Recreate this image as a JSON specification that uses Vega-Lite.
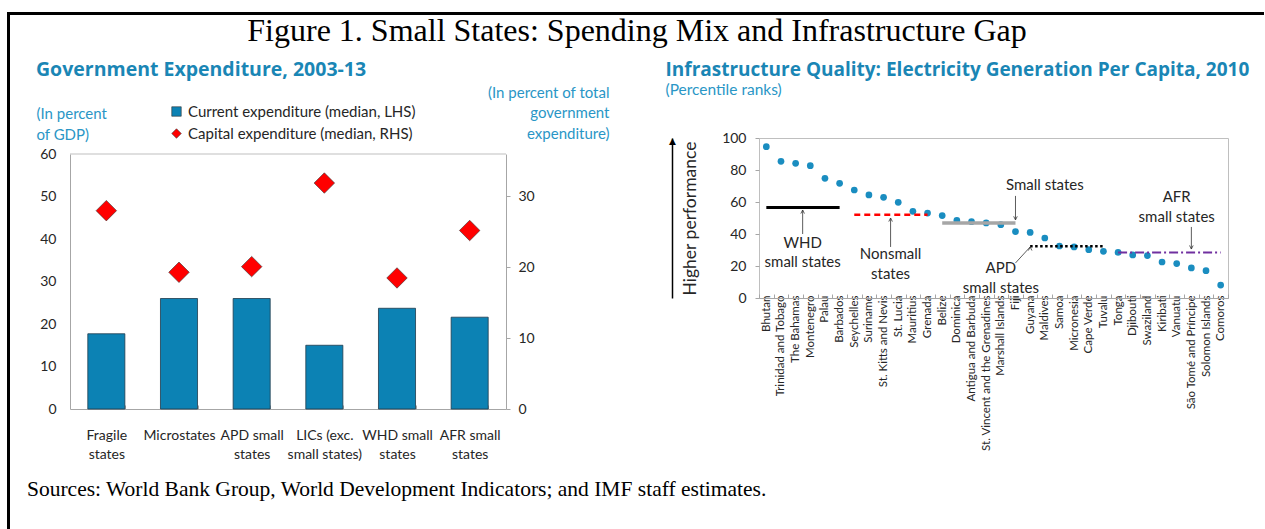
{
  "$schema": "https://vega.github.io/schema/vega-lite/v6.json",
  "padding": {"left": 7, "top": 6, "right": 0, "bottom": 0},
  "background": "white",
  "spacing": 0,
  "config": {
    "view": {"stroke": null},
    "font": "Lato",
    "axis": {"labelFont": "Lato", "titleFont": "Lato", "labelFontSize": 14, "labelColor": "#262626", "domainColor": "#A6A6A6", "tickColor": "#A6A6A6", "grid": false, "titleFontWeight": "normal"},
    "legend": {"labelFont": "Lato"},
    "title": {"font": "Open Sans", "fontWeight": "bold", "fontSize": 19, "color": "#1A86B5"}
  },
  "datasets": {
    "countries": [
      {"country": "Bhutan", "value": 94.6},
      {"country": "Trinidad and Tobago", "value": 85.4},
      {"country": "The Bahamas", "value": 84.2},
      {"country": "Montenegro", "value": 82.7},
      {"country": "Palau", "value": 74.8},
      {"country": "Barbados", "value": 71.7},
      {"country": "Seychelles", "value": 67.5},
      {"country": "Suriname", "value": 64.4},
      {"country": "St. Kitts and Nevis", "value": 62.9},
      {"country": "St. Lucia", "value": 59.8},
      {"country": "Mauritius", "value": 54.2},
      {"country": "Grenada", "value": 53.1},
      {"country": "Belize", "value": 51.5},
      {"country": "Dominica", "value": 48.5},
      {"country": "Antigua and Barbuda", "value": 47.7},
      {"country": "St. Vincent and the Grenadines", "value": 46.9},
      {"country": "Marshall Islands", "value": 45.8},
      {"country": "Fiji", "value": 41.5},
      {"country": "Guyana", "value": 41.0},
      {"country": "Maldives", "value": 37.5},
      {"country": "Samoa", "value": 32.5},
      {"country": "Micronesia", "value": 31.9},
      {"country": "Cape Verde", "value": 30.2},
      {"country": "Tuvalu", "value": 29.2},
      {"country": "Tonga", "value": 28.5},
      {"country": "Djibouti", "value": 26.9},
      {"country": "Swaziland", "value": 26.5},
      {"country": "Kiribati", "value": 22.5},
      {"country": "Vanuatu", "value": 21.5},
      {"country": "São Tomé and Príncipe", "value": 18.8},
      {"country": "Solomon Islands", "value": 17.1},
      {"country": "Comoros", "value": 8.1}
    ],
    "lines": [
      {"line": "WHD small states", "from": "Bhutan", "to": "Barbados", "value": 56.6},
      {"line": "Nonsmall states", "from": "Seychelles", "to": "Grenada", "value": 52.0},
      {"line": "Small states", "from": "Belize", "to": "Fiji", "value": 46.8},
      {"line": "APD small states", "from": "Guyana", "to": "Tuvalu", "value": 32.3},
      {"line": "AFR small states", "from": "Tonga", "to": "Comoros", "value": 28.5}
    ],
    "notes": [
      {"text": "Small states", "country": "Maldives", "value": 70.6},
      {"text": "AFR", "country": "Vanuatu", "value": 63.1},
      {"text": "small states", "country": "Vanuatu", "value": 50.6},
      {"text": "APD", "country": "Marshall Islands", "value": 18.75},
      {"text": "small states", "country": "Marshall Islands", "value": 6.25}
    ],
    "notes_shifted": [
      {"text": "WHD", "country": "The Bahamas", "value": 34.4},
      {"text": "small states", "country": "The Bahamas", "value": 22.5},
      {"text": "Nonsmall", "country": "St. Kitts and Nevis", "value": 27.5},
      {"text": "states", "country": "St. Kitts and Nevis", "value": 15.0}
    ],
    "arrows": [
      {"note": "Small states", "xt": "Fiji", "xh": "Fiji", "yt": 63.8, "yh": 48.8},
      {"note": "APD small states", "xt": "Fiji", "xh": "Guyana", "yt": 21.9, "yh": 31.9},
      {"note": "AFR small states", "xt": "São Tomé and Príncipe", "xh": "São Tomé and Príncipe", "yt": 44.4, "yh": 30.6}
    ],
    "arrows_shifted": [
      {"note": "WHD small states", "xt": "The Bahamas", "xh": "The Bahamas", "yt": 40.0, "yh": 55.0},
      {"note": "Nonsmall states", "xt": "St. Kitts and Nevis", "xh": "St. Kitts and Nevis", "yt": 31.9, "yh": 50.0}
    ]
  },
  "hconcat": [
    {
      "width": 1, "height": 518,
      "view": {"stroke": "black", "strokeWidth": 2},
      "data": {"values": [{}]},
      "mark": "text",
      "encoding": {"text": {"value": ""}}
    },
    {
      "spacing": 11,
      "vconcat": [
        {
          "width": 1252, "height": 1,
          "view": {"stroke": "black", "strokeWidth": 2},
          "title": {"text": "Figure 1. Small States: Spending Mix and Infrastructure Gap", "orient": "bottom", "anchor": "middle", "font": "Liberation Serif", "fontWeight": "normal", "fontSize": 32, "color": "black", "offset": -3, "baseline": "top"},
          "data": {"values": [{}]},
          "mark": "text",
          "encoding": {"text": {"value": ""}}
        },
        {
          "spacing": 0,
          "hconcat": [
            {
              "width": 25, "height": 10,
              "data": {"values": [{}]},
              "mark": "text",
              "encoding": {"text": {"value": ""}}
            },
            {
              "spacing": 56,
              "hconcat": [
                {
                  "width": 436, "height": 271,
                  "title": {"text": "Government Expenditure, 2003-13", "anchor": "start", "frame": "bounds", "offset": 5, "fontSize": 19.5},
                  "data": {"values": [
                    {"group": "Fragile states", "series": "Current expenditure (median, LHS)", "value": 17.7},
                    {"group": "Microstates", "series": "Current expenditure (median, LHS)", "value": 26.0},
                    {"group": "APD small states", "series": "Current expenditure (median, LHS)", "value": 26.0},
                    {"group": "LICs (exc. small states)", "series": "Current expenditure (median, LHS)", "value": 15.0},
                    {"group": "WHD small states", "series": "Current expenditure (median, LHS)", "value": 23.7},
                    {"group": "AFR small states", "series": "Current expenditure (median, LHS)", "value": 21.6},
                    {"group": "Fragile states", "series": "Capital expenditure (median, RHS)", "value": 28.0},
                    {"group": "Microstates", "series": "Capital expenditure (median, RHS)", "value": 19.3},
                    {"group": "APD small states", "series": "Capital expenditure (median, RHS)", "value": 20.1},
                    {"group": "LICs (exc. small states)", "series": "Capital expenditure (median, RHS)", "value": 31.9},
                    {"group": "WHD small states", "series": "Capital expenditure (median, RHS)", "value": 18.5},
                    {"group": "AFR small states", "series": "Capital expenditure (median, RHS)", "value": 25.2}
                  ]},
                  "layer": [
                    {
                      "transform": [{"filter": "datum.series === 'Current expenditure (median, LHS)'"}],
                      "mark": {"type": "bar", "stroke": "#1F3B4D", "strokeWidth": 0.8},
                      "encoding": {
                        "x": {
                          "field": "group", "type": "nominal", "title": null,
                          "scale": {"domain": ["Fragile states", "Microstates", "APD small states", "LICs (exc. small states)", "WHD small states", "AFR small states"], "paddingInner": 0.49, "paddingOuter": 0.245},
                          "axis": {"labelAngle": 0, "labelExpr": "test(/\\(exc\\./, datum.label) ? [slice(datum.label, 0, 10), slice(datum.label, 11)] : (indexof(datum.label, ' ') > 0 ? [slice(datum.label, 0, lastindexof(datum.label, ' ')), slice(datum.label, lastindexof(datum.label, ' ') + 1)] : datum.label)", "labelLineHeight": 19, "tickBand": "extent", "tickSize": -4, "labelPadding": 23}
                        },
                        "y": {
                          "field": "value", "type": "quantitative",
                          "scale": {"domain": [0, 60], "nice": false, "range": [271, 16]},
                          "axis": {"orient": "left", "values": [0, 10, 20, 30, 40, 50, 60], "ticks": false, "labelPadding": 14, "title": ["(In percent", " of GDP)"], "titleAngle": 0, "titleAlign": "left", "titleBaseline": "alphabetic", "titleX": -34, "titleY": -20, "titleFontSize": 15, "titleColor": "#2A96C6", "titleLineHeight": 21}
                        },
                        "color": {
                          "field": "series", "type": "nominal",
                          "scale": {"domain": ["Current expenditure (median, LHS)", "Capital expenditure (median, RHS)"], "range": ["#0C82B4", "#FF0000"]},
                          "legend": {"orient": "none", "legendX": 161, "legendY": 91, "title": null, "labelFontSize": 15, "labelColor": "#262626", "symbolSize": 90, "symbolStrokeColor": "#333333", "symbolStrokeWidth": 0.6, "rowPadding": 6, "labelOffset": 4, "labelLimit": 400}
                        }
                      }
                    },
                    {
                      "transform": [{"filter": "datum.series === 'Capital expenditure (median, RHS)'"}],
                      "mark": {"type": "point", "filled": true, "size": 420, "stroke": "#333333", "strokeWidth": 0.6, "opacity": 1},
                      "encoding": {
                        "x": {"field": "group", "type": "nominal", "title": null},
                        "y": {
                          "field": "value", "type": "quantitative",
                          "scale": {"domain": [0, 36], "nice": false, "range": [271, 16]},
                          "axis": {"orient": "right", "values": [0, 10, 20, 30], "tickSize": 4, "labelPadding": 8, "title": ["(In percent of total", "government", "expenditure)"], "titleAngle": 0, "titleAlign": "right", "titleBaseline": "alphabetic", "titleX": 103, "titleY": -41, "titleFontSize": 15, "titleColor": "#2A96C6", "titleLineHeight": 20.5}
                        },
                        "color": {"field": "series", "type": "nominal"},
                        "shape": {
                          "field": "series", "type": "nominal",
                          "scale": {"domain": ["Current expenditure (median, LHS)", "Capital expenditure (median, RHS)"], "range": ["square", "diamond"]},
                          "legend": {"orient": "none", "legendX": 161, "legendY": 91, "title": null, "labelFontSize": 15, "labelColor": "#262626", "symbolSize": 90, "symbolStrokeColor": "#333333", "symbolStrokeWidth": 0.6, "rowPadding": 6, "labelOffset": 4, "labelLimit": 400}
                        }
                      }
                    },
                    {
                      "data": {"values": [{}]},
                      "mark": {"type": "rule", "color": "#BFBFBF", "strokeWidth": 1},
                      "encoding": {
                        "y": {"datum": 60, "type": "quantitative", "scale": {"domain": [0, 60], "nice": false, "range": [271, 16]}, "axis": null}
                      }
                    }
                  ],
                  "resolve": {"scale": {"y": "independent"}}
                },
                {
                  "width": 469, "height": 160,
                  "view": {"stroke": "#BFBFBF", "strokeWidth": 1},
                  "title": {"text": "Infrastructure Quality: Electricity Generation Per Capita, 2010", "subtitle": "(Percentile ranks)", "anchor": "start", "frame": "bounds", "offset": 33, "dx": -3, "subtitleFont": "Lato", "subtitleFontSize": 15.5, "subtitleColor": "#2A96C6", "subtitlePadding": 3},
                  "layer": [
                    {
                      "data": {"name": "countries"},
                      "mark": {"type": "circle", "size": 45, "color": "#1A8DC0", "opacity": 1},
                      "encoding": {
                        "x": {
                          "field": "country", "type": "nominal", "title": null,
                          "scale": {"domain": ["Bhutan", "Trinidad and Tobago", "The Bahamas", "Montenegro", "Palau", "Barbados", "Seychelles", "Suriname", "St. Kitts and Nevis", "St. Lucia", "Mauritius", "Grenada", "Belize", "Dominica", "Antigua and Barbuda", "St. Vincent and the Grenadines", "Marshall Islands", "Fiji", "Guyana", "Maldives", "Samoa", "Micronesia", "Cape Verde", "Tuvalu", "Tonga", "Djibouti", "Swaziland", "Kiribati", "Vanuatu", "São Tomé and Príncipe", "Solomon Islands", "Comoros"]},
                          "axis": {"labelAngle": -90, "labelFontSize": 11.5, "labelPadding": 1, "tickBand": "extent", "tickSize": -4, "labelLimit": 300}
                        },
                        "y": {
                          "field": "value", "type": "quantitative",
                          "scale": {"domain": [0, 100], "nice": false},
                          "axis": {"orient": "left", "values": [0, 20, 40, 60, 80, 100], "tickSize": 4, "labelPadding": 9, "domain": false, "title": "Higher performance", "titleX": -69, "titleY": 80, "titleAngle": -90, "titleAlign": "center", "titleBaseline": "middle", "titleFontSize": 17.5, "titleColor": "#262626"}
                        }
                      }
                    },
                    {
                      "data": {"name": "lines"},
                      "transform": [{"filter": "datum.line === 'WHD small states'"}],
                      "mark": {"type": "rule", "color": "black", "strokeWidth": 3},
                      "encoding": {
                        "x": {"field": "from", "type": "nominal", "title": null},
                        "x2": {"field": "to"},
                        "y": {
                          "field": "value", "type": "quantitative", "scale": {"domain": [0, 100], "nice": false},
                          "axis": {"orient": "left", "offset": 87, "domain": true, "domainColor": "black", "domainWidth": 1.5, "labels": false, "ticks": false, "grid": false, "title": "▲", "titleX": 0, "titleY": 2, "titleAngle": 0, "titleAlign": "center", "titleBaseline": "middle", "titleFont": "DejaVu Sans", "titleFontSize": 9, "titleColor": "black"}
                        }
                      }
                    },
                    {
                      "data": {"name": "lines"},
                      "transform": [{"filter": "datum.line === 'Nonsmall states'"}],
                      "mark": {"type": "rule", "color": "#FF0000", "strokeWidth": 2.5, "strokeDash": [6, 4]},
                      "encoding": {
                        "x": {"field": "from", "type": "nominal", "title": null},
                        "x2": {"field": "to"},
                        "y": {"field": "value", "type": "quantitative", "scale": {"domain": [0, 100], "nice": false}, "axis": null}
                      }
                    },
                    {
                      "data": {"name": "lines"},
                      "transform": [{"filter": "datum.line === 'Small states'"}],
                      "mark": {"type": "rule", "color": "#A6A6A6", "strokeWidth": 3.5},
                      "encoding": {
                        "x": {"field": "from", "type": "nominal", "title": null},
                        "x2": {"field": "to"},
                        "y": {"field": "value", "type": "quantitative", "scale": {"domain": [0, 100], "nice": false}, "axis": null}
                      }
                    },
                    {
                      "data": {"name": "lines"},
                      "transform": [{"filter": "datum.line === 'APD small states'"}],
                      "mark": {"type": "rule", "color": "black", "strokeWidth": 2.5, "strokeDash": [2.5, 2.5]},
                      "encoding": {
                        "x": {"field": "from", "type": "nominal", "title": null},
                        "x2": {"field": "to"},
                        "y": {"field": "value", "type": "quantitative", "scale": {"domain": [0, 100], "nice": false}, "axis": null}
                      }
                    },
                    {
                      "data": {"name": "lines"},
                      "transform": [{"filter": "datum.line === 'AFR small states'"}],
                      "mark": {"type": "rule", "color": "#7030A0", "strokeWidth": 2, "strokeDash": [9, 3, 2, 3]},
                      "encoding": {
                        "x": {"field": "from", "type": "nominal", "title": null},
                        "x2": {"field": "to"},
                        "y": {"field": "value", "type": "quantitative", "scale": {"domain": [0, 100], "nice": false}, "axis": null}
                      }
                    },
                    {
                      "data": {"name": "arrows"},
                      "mark": {"type": "rule", "color": "#333333", "strokeWidth": 0.8},
                      "encoding": {
                        "x": {"field": "xt", "type": "nominal", "title": null},
                        "x2": {"field": "xh"},
                        "y": {"field": "yt", "type": "quantitative", "scale": {"domain": [0, 100], "nice": false}, "axis": null},
                        "y2": {"field": "yh"}
                      }
                    },
                    {
                      "data": {"name": "arrows"},
                      "mark": {"type": "point", "filled": false, "size": 20, "stroke": "#333333", "strokeWidth": 0.8, "opacity": 1},
                      "encoding": {
                        "x": {"field": "xh", "type": "nominal", "title": null},
                        "y": {"field": "yh", "type": "quantitative", "scale": {"domain": [0, 100], "nice": false}, "axis": null},
                        "shape": {"condition": {"test": "datum.yh > datum.yt", "value": "M-0.8,1.6L0,0L0.8,1.6"}, "value": "M-0.8,-1.6L0,0L0.8,-1.6"}
                      }
                    },
                    {
                      "data": {"name": "arrows_shifted"},
                      "mark": {"type": "rule", "color": "#333333", "strokeWidth": 0.8, "xOffset": 7, "x2Offset": 7},
                      "encoding": {
                        "x": {"field": "xt", "type": "nominal", "title": null},
                        "x2": {"field": "xh"},
                        "y": {"field": "yt", "type": "quantitative", "scale": {"domain": [0, 100], "nice": false}, "axis": null},
                        "y2": {"field": "yh"}
                      }
                    },
                    {
                      "data": {"name": "arrows_shifted"},
                      "mark": {"type": "point", "filled": false, "size": 20, "stroke": "#333333", "strokeWidth": 0.8, "opacity": 1, "xOffset": 7},
                      "encoding": {
                        "x": {"field": "xh", "type": "nominal", "title": null},
                        "y": {"field": "yh", "type": "quantitative", "scale": {"domain": [0, 100], "nice": false}, "axis": null},
                        "shape": {"condition": {"test": "datum.yh > datum.yt", "value": "M-0.8,1.6L0,0L0.8,1.6"}, "value": "M-0.8,-1.6L0,0L0.8,-1.6"}
                      }
                    },
                    {
                      "data": {"name": "notes"},
                      "mark": {"type": "text", "fontSize": 15, "color": "#262626", "align": "center", "baseline": "middle"},
                      "encoding": {
                        "x": {"field": "country", "type": "nominal", "title": null},
                        "y": {"field": "value", "type": "quantitative", "scale": {"domain": [0, 100], "nice": false}, "axis": null},
                        "text": {"field": "text"}
                      }
                    },
                    {
                      "data": {"name": "notes_shifted"},
                      "mark": {"type": "text", "fontSize": 15, "color": "#262626", "align": "center", "baseline": "middle", "dx": 7},
                      "encoding": {
                        "x": {"field": "country", "type": "nominal", "title": null},
                        "y": {"field": "value", "type": "quantitative", "scale": {"domain": [0, 100], "nice": false}, "axis": null},
                        "text": {"field": "text"}
                      }
                    }
                  ],
                  "resolve": {"axis": {"y": "independent"}}
                }
              ]
            }
          ]
        },
        {
          "width": 1000, "height": 1,
          "title": {"text": "Sources: World Bank Group, World Development Indicators; and IMF staff estimates.", "orient": "bottom", "anchor": "start", "font": "Liberation Serif", "fontSize": 21.5, "fontWeight": "normal", "color": "black", "dx": 16, "offset": -5, "baseline": "top"},
          "data": {"values": [{}]},
          "mark": "text",
          "encoding": {"text": {"value": ""}}
        }
      ]
    }
  ]
}
